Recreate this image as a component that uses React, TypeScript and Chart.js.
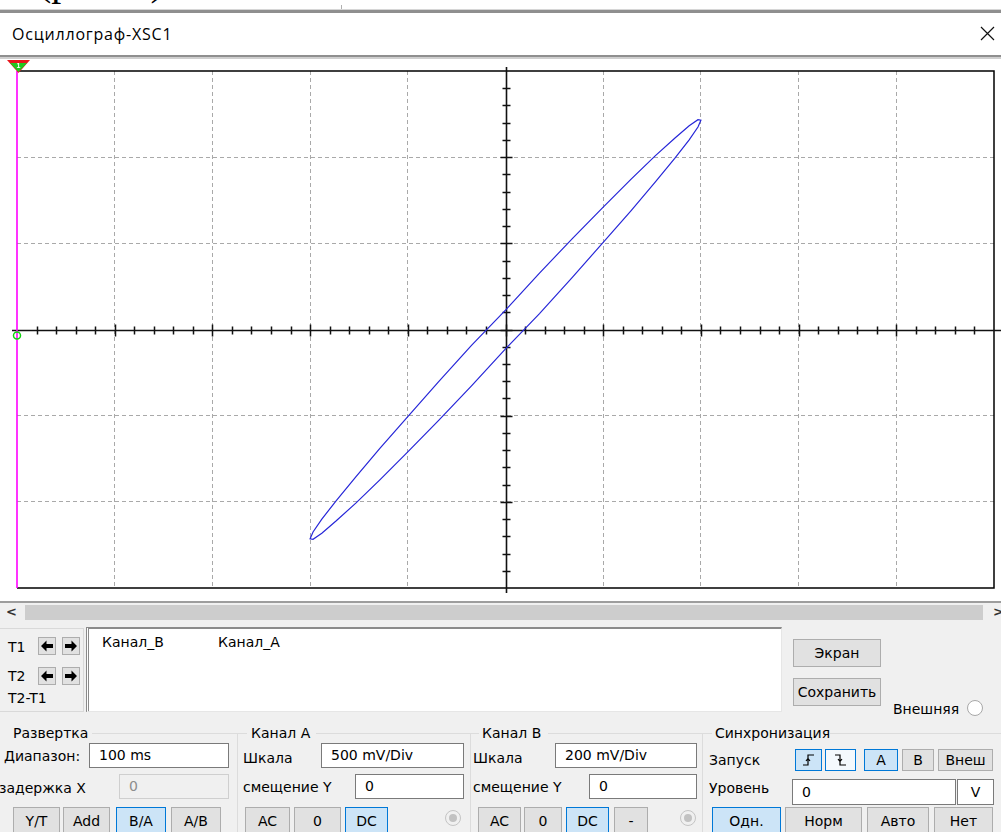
import React, { useEffect, useRef } from "react";
import { Chart, registerables } from "chart.js";

Chart.register(...registerables);

// ---- scope settings ----
const X_VOLTS_PER_DIV = 0.5; // Канал A: 500 mV/Div (horizontal in B/A mode)
const Y_VOLTS_PER_DIV = 0.2; // Канал B: 200 mV/Div (vertical)
const X_DIVS = 10;
const Y_DIVS = 6;
const MINOR_PER_DIV = 5;

// ---- trace (Канал A on X, Канал B on Y), volts ----
const traceA = [
  0, 0.174, 0.342, 0.5, 0.643, 0.766, 0.866, 0.94, 0.985, 1.0,
  0.985, 0.94, 0.866, 0.766, 0.643, 0.5, 0.342, 0.174,
  0, -0.174, -0.342, -0.5, -0.643, -0.766, -0.866, -0.94, -0.985, -1.0,
  -0.985, -0.94, -0.866, -0.766, -0.643, -0.5, -0.342, -0.174, 0,
];
const traceB = [
  0.045, 0.131, 0.211, 0.284, 0.349, 0.403, 0.444, 0.473, 0.487, 0.486,
  0.47, 0.44, 0.397, 0.342, 0.276, 0.202, 0.121, 0.037,
  -0.045, -0.131, -0.211, -0.284, -0.349, -0.403, -0.444, -0.473, -0.487, -0.486,
  -0.47, -0.44, -0.397, -0.342, -0.276, -0.202, -0.121, -0.037, 0.045,
];

const FONT = '"DejaVu Sans", sans-serif';

const scopePlugin = {
  id: "scopeScreen",
  beforeDatasetsDraw(chart: any) {
    const { ctx, chartArea: a } = chart;
    const xs = chart.scales.x;
    const ys = chart.scales.y;
    const x0 = Math.round(xs.getPixelForValue(0)) + 0.5;
    const y0 = Math.round(ys.getPixelForValue(0)) + 0.5;
    ctx.save();
    // frame
    ctx.strokeStyle = "#000";
    ctx.lineWidth = 1.5;
    ctx.beginPath();
    ctx.moveTo(a.left, a.top);
    ctx.lineTo(a.right, a.top);
    ctx.lineTo(a.right, a.bottom);
    ctx.lineTo(a.left, a.bottom);
    ctx.stroke();
    // centre axes
    ctx.strokeStyle = "#111";
    ctx.lineWidth = 1.6;
    ctx.beginPath();
    ctx.moveTo(a.left - 5, y0);
    ctx.lineTo(a.right + 8, y0);
    ctx.moveTo(x0, a.top - 4);
    ctx.lineTo(x0, a.bottom + 5);
    ctx.stroke();
    // minor ticks on the axes
    ctx.lineWidth = 1.5;
    ctx.beginPath();
    const xStep = X_VOLTS_PER_DIV / MINOR_PER_DIV;
    const nx = Math.round((xs.max - xs.min) / xStep);
    for (let i = 1; i < nx; i++) {
      const px = Math.round(xs.getPixelForValue(xs.min + i * xStep)) + 0.5;
      const h = i % MINOR_PER_DIV === 0 ? 6 : 4;
      ctx.moveTo(px, y0 - h);
      ctx.lineTo(px, y0 + h);
    }
    const yStep = Y_VOLTS_PER_DIV / MINOR_PER_DIV;
    const ny = Math.round((ys.max - ys.min) / yStep);
    for (let i = 1; i < ny; i++) {
      const py = Math.round(ys.getPixelForValue(ys.min + i * yStep)) + 0.5;
      const w = i % MINOR_PER_DIV === 0 ? 6 : 4;
      ctx.moveTo(x0 - w, py);
      ctx.lineTo(x0 + w, py);
    }
    ctx.stroke();
    ctx.restore();
  },
  afterDatasetsDraw(chart: any) {
    const { ctx, chartArea: a } = chart;
    const ys = chart.scales.y;
    const y0 = ys.getPixelForValue(0);
    const cx = a.left;
    ctx.save();
    // cursor T1
    ctx.strokeStyle = "#ff00ff";
    ctx.lineWidth = 1.6;
    ctx.beginPath();
    ctx.moveTo(cx, a.top);
    ctx.lineTo(cx, a.bottom);
    ctx.stroke();
    // cursor marker triangle
    ctx.fillStyle = "#e8141b";
    ctx.beginPath();
    ctx.moveTo(cx - 10, a.top - 11);
    ctx.lineTo(cx + 13, a.top - 11);
    ctx.lineTo(cx + 1.5, a.top + 2);
    ctx.closePath();
    ctx.fill();
    ctx.fillStyle = "#1fc81f";
    ctx.beginPath();
    ctx.moveTo(cx - 7, a.top - 8);
    ctx.lineTo(cx + 10, a.top - 8);
    ctx.lineTo(cx + 1.5, a.top + 1);
    ctx.closePath();
    ctx.fill();
    ctx.fillStyle = "#fff";
    ctx.font = "bold 7px sans-serif";
    ctx.textAlign = "center";
    ctx.textBaseline = "middle";
    ctx.fillText("1", cx + 1.5, a.top - 5);
    // channel marker
    ctx.strokeStyle = "#10d010";
    ctx.lineWidth = 1.5;
    ctx.beginPath();
    ctx.arc(cx, y0 + 6, 3.5, 0, Math.PI * 2);
    ctx.stroke();
    ctx.restore();
  },
};

function gridColor(max: number) {
  return (c: any) => {
    const v = c.tick ? c.tick.value : 0;
    if (Math.abs(v) < 1e-9 || Math.abs(Math.abs(v) - max) < 1e-9) return "rgba(0,0,0,0)";
    return "#a9a9a9";
  };
}

function Scope() {
  const ref = useRef<HTMLCanvasElement | null>(null);
  useEffect(() => {
    if (!ref.current) return;
    const xMax = (X_DIVS / 2) * X_VOLTS_PER_DIV;
    const yMax = (Y_DIVS / 2) * Y_VOLTS_PER_DIV;
    const chart = new Chart(ref.current, {
      type: "scatter",
      data: {
        datasets: [
          {
            data: traceA.map((x, i) => ({ x, y: traceB[i] })),
            showLine: true,
            borderColor: "#2626d8",
            borderWidth: 1.2,
            pointRadius: 0,
            tension: 0,
            fill: false,
          },
        ],
      },
      options: {
        animation: false,
        responsive: false,
        devicePixelRatio: 1,
        layout: { padding: { left: 17, right: 7, top: 11, bottom: 12 } },
        plugins: { legend: { display: false }, tooltip: { enabled: false } },
        scales: {
          x: {
            type: "linear",
            min: -xMax,
            max: xMax,
            ticks: { display: false, stepSize: X_VOLTS_PER_DIV },
            grid: { color: gridColor(xMax), lineWidth: 1, drawTicks: false, tickLength: 0 },
            border: { display: false, dash: [4, 3] },
            afterFit: (s: any) => { s.height = 0; },
          },
          y: {
            type: "linear",
            min: -yMax,
            max: yMax,
            ticks: { display: false, stepSize: Y_VOLTS_PER_DIV },
            grid: { color: gridColor(yMax), lineWidth: 1, drawTicks: false, tickLength: 0 },
            border: { display: false, dash: [4, 3] },
            afterFit: (s: any) => { s.width = 0; },
          },
        },
      } as any,
      plugins: [scopePlugin],
    });
    return () => chart.destroy();
  }, []);
  return (
    <canvas
      ref={ref}
      width={1001}
      height={540}
      style={{ position: "absolute", left: 0, top: 60, width: 1001, height: 540 }}
    />
  );
}

const abs = (x: number, y: number, w: number, h: number): React.CSSProperties => ({
  position: "absolute",
  left: x,
  top: y,
  width: w,
  height: h,
  boxSizing: "border-box",
});

function Txt({ x, cy, children, color = "#000", size = 14, weight = "normal" }: any) {
  return (
    <div
      style={{
        position: "absolute",
        left: x,
        top: cy - 10,
        height: 20,
        lineHeight: "20px",
        fontSize: size,
        fontWeight: weight,
        fontFamily: FONT,
        color,
        whiteSpace: "nowrap",
      }}
    >
      {children}
    </div>
  );
}

function Btn({ x1, y1, x2, y2, label, sel, light, children }: any) {
  return (
    <div
      style={{
        ...abs(x1, y1, x2 - x1, y2 - y1),
        border: `1px solid ${sel || light ? "#0078d7" : "#adadad"}`,
        background: sel ? "#cce4f7" : light ? "#f4f9fd" : "#e1e1e1",
        display: "flex",
        alignItems: "center",
        justifyContent: "center",
        fontFamily: FONT,
        fontSize: 14,
        color: "#000",
        whiteSpace: "nowrap",
      }}
    >
      {label}
      {children}
    </div>
  );
}

function Inp({ x1, y1, x2, y2, value, disabled }: any) {
  return (
    <div
      style={{
        ...abs(x1, y1, x2 - x1, y2 - y1),
        border: `1px solid ${disabled ? "#cfcfcf" : "#7a7a7a"}`,
        background: disabled ? "#f0f0f0" : "#fff",
        paddingLeft: 9,
        lineHeight: `${y2 - y1 - 2}px`,
        fontFamily: FONT,
        fontSize: 14,
        color: disabled ? "#8d8d8d" : "#000",
        whiteSpace: "nowrap",
      }}
    >
      {value}
    </div>
  );
}

function Arrow({ x1, y1, dir }: any) {
  return (
    <div style={{ ...abs(x1, y1, 18, 18), border: "1px solid #adadad", background: "#e1e1e1" }}>
      <svg width={16} height={16} style={{ position: "absolute", left: 0, top: 0 }}>
        <path
          d="M2 8 L7.5 2.5 L7.5 6 L14 6 L14 10 L7.5 10 L7.5 13.5 Z"
          fill="#000"
          transform={dir === "r" ? "translate(16,0) scale(-1,1)" : undefined}
        />
      </svg>
    </div>
  );
}

function Radio({ cx, cy, disabled }: any) {
  return (
    <div
      style={{
        ...abs(cx - 8, cy - 8, 16, 16),
        borderRadius: "50%",
        border: `1px solid ${disabled ? "#c4c4c4" : "#a8a8a8"}`,
        background: disabled ? "#f0f0f0" : "#fff",
      }}
    >
      {disabled && (
        <div style={{ ...abs(3, 3, 8, 8), borderRadius: "50%", background: "#c2c2c2" }} />
      )}
    </div>
  );
}

function HLine({ x1, x2, y, color = "#dcdcdc" }: any) {
  return <div style={{ ...abs(x1, y, x2 - x1, 1), background: color }} />;
}
function VLine({ x, y1, y2, color = "#dcdcdc" }: any) {
  return <div style={{ ...abs(x, y1, 1, y2 - y1), background: color }} />;
}

export default function App() {
  return (
    <div
      style={{
        position: "fixed",
        left: 0,
        top: 0,
        width: 1001,
        height: 832,
        overflow: "hidden",
        background: "#fff",
        fontFamily: FONT,
      }}
    >
      {/* document text behind, cut at the top */}
      <div style={{ ...abs(0, 0, 1001, 10), overflow: "hidden" }}>
        <div
          style={{
            position: "absolute",
            left: 38,
            top: -42,
            fontFamily: '"Liberation Serif", serif',
            fontSize: 40,
            lineHeight: "48px",
            whiteSpace: "nowrap",
          }}
        >
          (рис. 1)
        </div>
        <VLine x={341} y1={5} y2={10} color="#b0b0b0" />
      </div>
      <HLine x1={0} x2={1001} y={9} color="#d6d6d6" />
      <div style={{ ...abs(0, 10, 1001, 3), background: "#8f8f8f" }} />

      {/* title bar */}
      <div
        style={{
          position: "absolute",
          left: 12,
          top: 22,
          height: 24,
          lineHeight: "24px",
          fontFamily: '"Open Sans", sans-serif',
          fontSize: 16,
          letterSpacing: 0.8,
          color: "#000",
          whiteSpace: "nowrap",
        }}
      >
        Осциллограф-XSC1
      </div>
      <svg width={16} height={16} style={{ position: "absolute", left: 980, top: 26 }}>
        <path d="M1 1 L14 14 M14 1 L1 14" stroke="#111" strokeWidth={1.2} fill="none" />
      </svg>
      <div style={{ ...abs(0, 55, 1001, 2), background: "#8f8f8f" }} />
      <div style={{ ...abs(0, 57, 1001, 2), background: "#cfcfcf" }} />

      <Scope />

      {/* scrollbar and lower panel */}
      <div style={{ ...abs(0, 601, 1001, 2), background: "#9d9d9d" }} />
      <div style={{ ...abs(0, 603, 1001, 229), background: "#f0f0f0" }} />
      <div style={{ ...abs(25, 605, 958, 15), background: "#cdcdcd" }} />
      <Txt x={6} cy={612} color="#333" size={13} weight="bold">&lt;</Txt>
      <Txt x={993} cy={612} color="#333" size={13} weight="bold">&gt;</Txt>

      {/* cursor box */}
      <div style={{ ...abs(-1, 628, 85, 84), border: "1px solid #d9d9d9" }} />
      <Txt x={8} cy={647}>T1</Txt>
      <Txt x={8} cy={676}>T2</Txt>
      <Txt x={8} cy={698}>T2-T1</Txt>
      <Arrow x1={38} y1={637} dir="l" />
      <Arrow x1={62} y1={637} dir="r" />
      <Arrow x1={38} y1={667} dir="l" />
      <Arrow x1={62} y1={667} dir="r" />

      {/* readout */}
      <div
        style={{
          ...abs(86, 627, 696, 85),
          background: "#fff",
          borderTop: "2px solid #8a8a8a",
          borderLeft: "3px double #8a8a8a",
          borderRight: "1px solid #e6e6e6",
          borderBottom: "1px solid #e6e6e6",
        }}
      />
      <Txt x={102} cy={642}>Канал_B</Txt>
      <Txt x={218} cy={642}>Канал_A</Txt>

      <Btn x1={793} y1={639} x2={881} y2={667} label="Экран" />
      <Btn x1={793} y1={678} x2={881} y2={706} label="Сохранить" />
      <Txt x={893} cy={709}>Внешняя</Txt>
      <Radio cx={975} cy={708} />

      {/* group boxes */}
      <HLine x1={92} x2={237} y={733} />
      <HLine x1={237} x2={247} y={733} />
      <HLine x1={316} x2={470} y={733} />
      <HLine x1={470} x2={479} y={733} />
      <HLine x1={548} x2={702} y={733} />
      <HLine x1={702} x2={712} y={733} />
      <HLine x1={830} x2={1001} y={733} />
      <VLine x={237} y1={733} y2={832} />
      <VLine x={470} y1={733} y2={832} />
      <VLine x={702} y1={733} y2={832} />

      <Txt x={13} cy={733}>Развертка</Txt>
      <Txt x={251} cy={733}>Канал А</Txt>
      <Txt x={482} cy={733}>Канал В</Txt>
      <Txt x={715} cy={733}>Синхронизация</Txt>

      {/* row 1 */}
      <Txt x={4} cy={756}>Диапазон:</Txt>
      <Inp x1={89} y1={743} x2={229} y2={768} value="100 ms" />
      <Txt x={243} cy={758}>Шкала</Txt>
      <Inp x1={321} y1={743} x2={464} y2={768} value="500 mV/Div" />
      <Txt x={473} cy={758}>Шкала</Txt>
      <Inp x1={555} y1={743} x2={697} y2={768} value="200 mV/Div" />
      <Txt x={709} cy={760}>Запуск</Txt>
      <Btn x1={795} y1={749} x2={822} y2={771} sel>
        <svg width={14} height={14}>
          <path d="M1 12 H6 V2 H12 M4 8 L6 5.5 L8 8" stroke="#000" strokeWidth={1.2} fill="none" />
        </svg>
      </Btn>
      <Btn x1={825} y1={749} x2={856} y2={771} light>
        <svg width={14} height={14}>
          <path d="M1 2 H6 V12 H12 M4 6 L6 8.5 L8 6" stroke="#000" strokeWidth={1.2} fill="none" />
        </svg>
      </Btn>
      <Btn x1={864} y1={749} x2={898} y2={771} label="A" sel />
      <Btn x1={902} y1={749} x2={934} y2={771} label="B" />
      <Btn x1={938} y1={749} x2={993} y2={771} label="Внеш" />

      {/* row 2 */}
      <Txt x={-1} cy={788}>задержка X</Txt>
      <Inp x1={119} y1={774} x2={229} y2={799} value="0" disabled />
      <Txt x={243} cy={787}>смещение Y</Txt>
      <Inp x1={355} y1={774} x2={464} y2={799} value="0" />
      <Txt x={473} cy={787}>смещение Y</Txt>
      <Inp x1={589} y1={774} x2={697} y2={799} value="0" />
      <Txt x={709} cy={788}>Уровень</Txt>
      <Inp x1={792} y1={779} x2={956} y2={805} value="0" />
      <div
        style={{
          ...abs(957, 779, 37, 26),
          border: "1px solid #7a7a7a",
          background: "#fff",
          fontFamily: FONT,
          fontSize: 14,
          lineHeight: "24px",
          textAlign: "center",
        }}
      >
        V
      </div>

      {/* row 3 */}
      <Btn x1={13} y1={807} x2={60} y2={834} label="Y/T" />
      <Btn x1={63} y1={807} x2={110} y2={834} label="Add" />
      <Btn x1={116} y1={807} x2={166} y2={834} label="B/A" sel />
      <Btn x1={171} y1={807} x2={221} y2={834} label="A/B" />
      <Btn x1={245} y1={807} x2={290} y2={834} label="AC" />
      <Btn x1={294} y1={807} x2={341} y2={834} label="0" />
      <Btn x1={345} y1={807} x2={388} y2={834} label="DC" sel />
      <Radio cx={453} cy={818} disabled />
      <Btn x1={478} y1={807} x2={521} y2={834} label="AC" />
      <Btn x1={524} y1={807} x2={562} y2={834} label="0" />
      <Btn x1={566} y1={807} x2={609} y2={834} label="DC" sel />
      <Btn x1={614} y1={807} x2={648} y2={834} label="-" />
      <Radio cx={688} cy={818} disabled />
      <Btn x1={712} y1={807} x2={781} y2={834} label="Одн." sel />
      <Btn x1={785} y1={807} x2={862} y2={834} label="Норм" />
      <Btn x1={867} y1={807} x2={929} y2={834} label="Авто" />
      <Btn x1={934} y1={807} x2={993} y2={834} label="Нет" />
    </div>
  );
}
